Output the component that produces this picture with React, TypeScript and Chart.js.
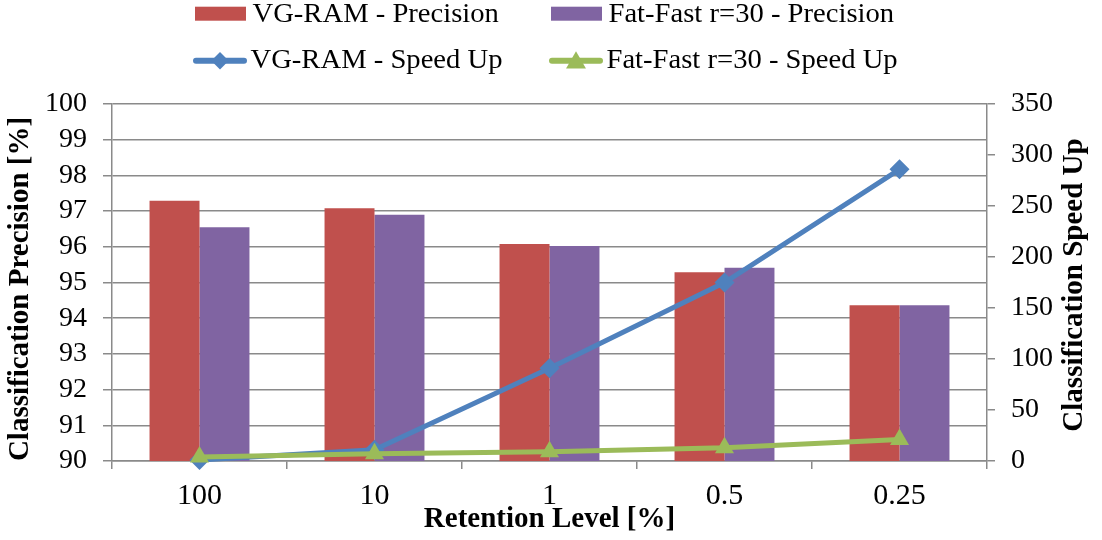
import React, { useEffect, useRef } from "react";
import { Chart, registerables } from "chart.js";

Chart.register(...registerables);

const categories = ["100", "10", "1", "0.5", "0.25"];
const vgPrecision = [97.29, 97.08, 96.08, 95.29, 94.36];
const ffPrecision = [96.55, 96.9, 96.02, 95.41, 94.36];
const vgSpeedUp = [1, 11, 91, 175, 286];
const ffSpeedUp = [4, 7, 9, 13, 21];
const seriesLabels = [
  "VG-RAM - Precision",
  "Fat-Fast r=30 - Precision",
  "VG-RAM - Speed Up",
  "Fat-Fast r=30 - Speed Up",
];
const leftTitle = "Classification Precision [%]";
const rightTitle = "Classification Speed Up";
const xTitle = "Retention Level [%]";

const RED = "#C0504D";
const PURPLE = "#8064A2";
const BLUE = "#4F81BD";
const GREEN = "#9BBB59";
const GRID = "#8a8a8a";
const FONT = "'Liberation Serif', 'Times New Roman', serif";

const legendPlugin = {
  id: "customLegend",
  afterDraw(chart: any) {
    const ctx = chart.ctx as CanvasRenderingContext2D;
    const ds = chart.data.datasets;
    const items = [
      { i: 0, x: 195, y: 13.7, kind: "box" },
      { i: 1, x: 551, y: 13.7, kind: "box" },
      { i: 2, x: 193, y: 60.7, kind: "line" },
      { i: 3, x: 549, y: 60.7, kind: "line" },
    ];
    ctx.save();
    for (const it of items) {
      const d = ds[it.i];
      const color = d.type === "line" ? d.borderColor : d.backgroundColor;
      let textY = it.y + 1.4;
      if (it.kind === "box") {
        ctx.fillStyle = color;
        ctx.fillRect(it.x, it.y - 7, 51, 14);
      } else {
        ctx.strokeStyle = color;
        ctx.lineWidth = 6;
        ctx.lineCap = "round";
        ctx.beginPath();
        ctx.moveTo(it.x + 3, it.y);
        ctx.lineTo(it.x + 51, it.y);
        ctx.stroke();
        const cx = it.x + 27;
        ctx.fillStyle = color;
        ctx.beginPath();
        if (d.pointStyle === "rectRot") {
          const r = 8.7;
          ctx.moveTo(cx, it.y - r);
          ctx.lineTo(cx + r, it.y);
          ctx.lineTo(cx, it.y + r);
          ctx.lineTo(cx - r, it.y);
        } else {
          const r = 11.5;
          const cy = it.y + 2;
          ctx.moveTo(cx, cy - r);
          ctx.lineTo(cx + r * 0.866, cy + r * 0.5);
          ctx.lineTo(cx - r * 0.866, cy + r * 0.5);
        }
        ctx.closePath();
        ctx.fill();
        textY = it.y + 0.5;
      }
      ctx.save();
      ctx.fillStyle = "#000";
      ctx.font = `27px ${FONT}`;
      ctx.textBaseline = "middle";
      ctx.textAlign = "left";
      ctx.translate(it.x + 57.5, textY);
      ctx.scale(1.06, 1);
      ctx.fillText(d.label, 0, 0);
      ctx.restore();
    }
    ctx.restore();
  },
};

const axisTitlePlugin = {
  id: "axisTitles",
  afterDraw(chart: any) {
    const ctx = chart.ctx as CanvasRenderingContext2D;
    ctx.save();
    ctx.fillStyle = "#000";
    ctx.font = `bold 29px ${FONT}`;
    ctx.textAlign = "center";
    ctx.textBaseline = "middle";
    ctx.save();
    ctx.translate(20.5, 289);
    ctx.rotate(-Math.PI / 2);
    ctx.fillText(leftTitle, 0, 0);
    ctx.restore();
    ctx.save();
    ctx.translate(1075, 285);
    ctx.rotate(-Math.PI / 2);
    ctx.fillText(rightTitle, 0, 0);
    ctx.restore();
    ctx.restore();
  },
};

export default function App() {
  const ref = useRef<HTMLCanvasElement | null>(null);

  useEffect(() => {
    if (!ref.current) return;
    const yTickFont = { family: FONT, size: 28, lineHeight: 1 };
    const xTickFont = { family: FONT, size: 30 };
    const chart = new Chart(ref.current, {
      type: "bar",
      data: {
        labels: categories,
        datasets: [
          {
            type: "bar",
            label: seriesLabels[0],
            data: vgPrecision,
            backgroundColor: RED,
            borderWidth: 0,
            yAxisID: "y",
            order: 3,
            barPercentage: 1,
            categoryPercentage: 0.571,
          },
          {
            type: "bar",
            label: seriesLabels[1],
            data: ffPrecision,
            backgroundColor: PURPLE,
            borderWidth: 0,
            yAxisID: "y",
            order: 3,
            barPercentage: 1,
            categoryPercentage: 0.571,
          },
          {
            type: "line",
            label: seriesLabels[2],
            data: vgSpeedUp,
            borderColor: BLUE,
            backgroundColor: BLUE,
            borderWidth: 5,
            pointStyle: "rectRot",
            pointRadius: 10,
            pointBorderWidth: 0,
            pointBackgroundColor: BLUE,
            tension: 0,
            yAxisID: "y1",
            order: 2,
            clip: false,
          },
          {
            type: "line",
            label: seriesLabels[3],
            data: ffSpeedUp,
            borderColor: GREEN,
            backgroundColor: GREEN,
            borderWidth: 5,
            pointStyle: "triangle",
            pointRadius: 11,
            pointBorderWidth: 0,
            pointBackgroundColor: GREEN,
            tension: 0,
            yAxisID: "y1",
            order: 1,
            clip: false,
          },
        ] as any,
      },
      options: {
        responsive: false,
        animation: false,
        devicePixelRatio: 1,
        layout: { padding: { top: 104, left: 0, right: 0, bottom: 0 } },
        plugins: {
          legend: { display: false },
          tooltip: { enabled: false },
          title: { display: false },
        },
        scales: {
          x: {
            type: "category",
            offset: true,
            grid: {
              display: true,
              offset: true,
              drawOnChartArea: false,
              drawTicks: true,
              tickLength: 8,
              color: GRID,
              lineWidth: 1.5,
            },
            border: { display: true, color: GRID, width: 1.5 },
            ticks: { color: "#000", font: xTickFont, padding: 9, maxRotation: 0, autoSkip: false },
            title: {
              display: true,
              text: xTitle,
              color: "#000",
              font: { family: FONT, size: 29, weight: "bold" },
              padding: { top: 0, bottom: 3 },
            },
            afterFit: (s: any) => {
              s.height = 79;
            },
          },
          y: {
            type: "linear",
            position: "left",
            min: 90,
            max: 100,
            grid: {
              display: true,
              drawOnChartArea: true,
              drawTicks: true,
              tickLength: 9,
              color: GRID,
              lineWidth: 1.5,
            },
            border: { display: true, color: GRID, width: 1.5 },
            ticks: { stepSize: 1, autoSkip: false, color: "#000", font: yTickFont, padding: 16 },
            afterFit: (s: any) => {
              s.width = 112;
            },
          },
          y1: {
            type: "linear",
            position: "right",
            min: 0,
            max: 350,
            grid: {
              display: true,
              drawOnChartArea: false,
              drawTicks: true,
              tickLength: 8,
              color: GRID,
              lineWidth: 1.5,
            },
            border: { display: true, color: GRID, width: 1.5 },
            ticks: { stepSize: 50, autoSkip: false, color: "#000", font: yTickFont, padding: 16 },
            afterFit: (s: any) => {
              s.width = 115;
            },
          },
        },
      } as any,
      plugins: [legendPlugin, axisTitlePlugin],
    });
    return () => chart.destroy();
  }, []);

  return (
    <div style={{ position: "absolute", left: 0, top: 0, width: 1102, height: 540, background: "#fff" }}>
      <canvas ref={ref} width={1102} height={540} style={{ display: "block" }} />
    </div>
  );
}
